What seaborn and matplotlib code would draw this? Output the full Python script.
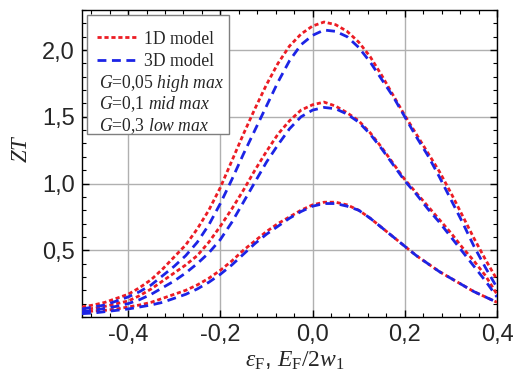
import numpy as np
import pandas as pd
import matplotlib
matplotlib.use("Agg")
import matplotlib.pyplot as plt
from matplotlib.lines import Line2D
from matplotlib.patches import Rectangle
import seaborn as sns

# ---------------- data ----------------
x_vals = [-0.5, -0.475, -0.45, -0.425, -0.4, -0.375, -0.35, -0.325, -0.3, -0.275,
          -0.25, -0.225, -0.2, -0.175, -0.15, -0.125, -0.1, -0.075, -0.05, -0.025,
          0.0, 0.025, 0.05, 0.075, 0.1, 0.125, 0.15, 0.175, 0.2, 0.225,
          0.25, 0.275, 0.3, 0.325, 0.35, 0.375, 0.4]

high_1d = [0.075, 0.09, 0.11, 0.14, 0.17, 0.22, 0.28, 0.36, 0.45, 0.54,
           0.66, 0.80, 0.97, 1.17, 1.37, 1.56, 1.74, 1.90, 2.03, 2.12,
           2.18, 2.21, 2.19, 2.14, 2.06, 1.95, 1.81, 1.66, 1.51, 1.37,
           1.23, 1.09, 0.93, 0.76, 0.59, 0.43, 0.28]
high_3d = [0.06, 0.075, 0.09, 0.12, 0.15, 0.19, 0.24, 0.31, 0.38, 0.46,
           0.56, 0.69, 0.85, 1.03, 1.22, 1.40, 1.58, 1.76, 1.92, 2.04,
           2.11, 2.15, 2.14, 2.10, 2.02, 1.91, 1.78, 1.65, 1.50, 1.35,
           1.21, 1.05, 0.88, 0.71, 0.53, 0.37, 0.22]
mid_1d = [0.055, 0.065, 0.08, 0.10, 0.12, 0.16, 0.21, 0.27, 0.33, 0.39,
          0.46, 0.56, 0.68, 0.81, 0.95, 1.10, 1.24, 1.37, 1.47, 1.55,
          1.59, 1.61, 1.58, 1.53, 1.47, 1.38, 1.27, 1.15, 1.03, 0.93,
          0.83, 0.73, 0.63, 0.52, 0.42, 0.31, 0.17]
mid_3d = [0.04, 0.05, 0.065, 0.08, 0.10, 0.13, 0.17, 0.22, 0.27, 0.33,
          0.40, 0.48, 0.58, 0.71, 0.86, 1.01, 1.16, 1.29, 1.41, 1.50,
          1.55, 1.57, 1.56, 1.52, 1.46, 1.37, 1.26, 1.14, 1.02, 0.92,
          0.81, 0.71, 0.60, 0.49, 0.38, 0.27, 0.15]
low_1d = [0.035, 0.045, 0.05, 0.06, 0.075, 0.09, 0.11, 0.14, 0.17, 0.20,
          0.24, 0.29, 0.35, 0.42, 0.50, 0.57, 0.64, 0.70, 0.75, 0.80,
          0.84, 0.86, 0.86, 0.84, 0.80, 0.74, 0.67, 0.60, 0.53, 0.46,
          0.40, 0.34, 0.29, 0.24, 0.19, 0.15, 0.11]
low_3d = [0.025, 0.03, 0.04, 0.05, 0.06, 0.075, 0.09, 0.11, 0.14, 0.17,
          0.21, 0.26, 0.32, 0.39, 0.47, 0.55, 0.62, 0.68, 0.74, 0.79,
          0.83, 0.85, 0.85, 0.83, 0.80, 0.74, 0.67, 0.60, 0.53, 0.46,
          0.40, 0.34, 0.29, 0.24, 0.19, 0.15, 0.11]

models = ["1D model", "3D model"]
g_labels = ["G=0,05 high max", "G=0,1 mid max", "G=0,3 low max"]
x_ticks = [-0.4, -0.2, 0.0, 0.2, 0.4]
x_ticklabels = ["-0,4", "-0,2", "0,0", "0,2", "0,4"]
y_ticks = [0.5, 1.0, 1.5, 2.0]
y_ticklabels = ["0,5", "1,0", "1,5", "2,0"]

rows = []
for g, (c1, c3) in zip(g_labels, [(high_1d, high_3d), (mid_1d, mid_3d), (low_1d, low_3d)]):
    for xv, a, b in zip(x_vals, c1, c3):
        rows.append({"x": xv, "ZT": a, "model": models[0], "G": g})
        rows.append({"x": xv, "ZT": b, "model": models[1], "G": g})
df = pd.DataFrame(rows)

# ---------------- style ----------------
sns.set_style("ticks")
plt.rcParams["font.family"] = ["Liberation Sans", "DejaVu Sans"]
plt.rcParams["mathtext.fontset"] = "custom"
plt.rcParams["mathtext.rm"] = "Liberation Serif"
plt.rcParams["mathtext.it"] = "Liberation Serif:italic"
plt.rcParams["mathtext.bf"] = "Liberation Serif:bold"

RED = "#ec1c24"
BLUE = "#1c24e6"
LW = 2.0
DASH_1D = (1.5, 1.0)
DASH_3D = (3.2, 2.0)
LEG_FS = 12.7

fig = plt.figure(figsize=(5.14, 3.81), dpi=100)
ax = fig.add_axes([82/514, 1 - 317/381, 415/514, 307/381])

sns.lineplot(data=df, x="x", y="ZT", hue="model", style="model", units="G",
             estimator=None, sort=False, palette={models[0]: RED, models[1]: BLUE},
             dashes={models[0]: DASH_1D, models[1]: DASH_3D}, linewidth=LW,
             legend=False, ax=ax, zorder=3)

ax.set_xlim(-0.5, 0.4)
ax.set_ylim(0.0, 2.3)
ax.set_xticks(x_ticks)
ax.set_xticklabels(x_ticklabels)
ax.set_yticks(y_ticks)
ax.set_yticklabels(y_ticklabels)
ax.xaxis.set_minor_locator(matplotlib.ticker.MultipleLocator(0.04))
ax.yaxis.set_minor_locator(matplotlib.ticker.MultipleLocator(0.1))
ax.tick_params(which="both", direction="in", top=True, right=True, color="black")
ax.tick_params(which="major", length=5, width=1, labelsize=17, pad=5)
ax.tick_params(which="minor", length=3, width=0.8)
ax.grid(True, which="major", color="#b0b0b0", linewidth=1.0, zorder=0)
for s in ax.spines.values():
    s.set_color("black")
    s.set_linewidth(1.0)

ax.set_xlabel(r"$\varepsilon_{\mathrm{F}}$, $E_{\mathrm{F}}/2w_{1}$", fontsize=17)
ax.xaxis.set_label_coords(0.512, -0.108)
ax.set_ylabel(r"$ZT$", fontsize=16.5)
ax.yaxis.set_label_coords(-0.12, 0.55)

# legend box
ax.add_patch(Rectangle((0.012, 0.596), 0.342, 0.388, transform=ax.transAxes,
                       facecolor="white", edgecolor="#7f7f7f", linewidth=1.0, zorder=4))
handles = [Line2D([], [], color=RED, lw=LW, dashes=DASH_1D),
           Line2D([], [], color=BLUE, lw=LW, dashes=DASH_3D)]
leg = ax.legend(handles, models, loc="upper left", bbox_to_anchor=(0.024, 0.950),
                frameon=False, prop={"family": "Liberation Serif", "size": LEG_FS},
                handlelength=2.33, handletextpad=0.3, labelspacing=0.29,
                borderpad=0.3, borderaxespad=0.0)
leg.set_zorder(5)

g_texts = [r"$G$=0,05 $high\ max$", r"$G$=0,1 $mid\ max$", r"$G$=0,3 $low\ max$"]
for t, yy in zip(g_texts, [0.762, 0.692, 0.622]):
    ax.text(0.041, yy, t, transform=ax.transAxes, fontsize=LEG_FS,
            family="Liberation Serif", va="center", ha="left", zorder=6)

fig.savefig("out.png", dpi=100)
